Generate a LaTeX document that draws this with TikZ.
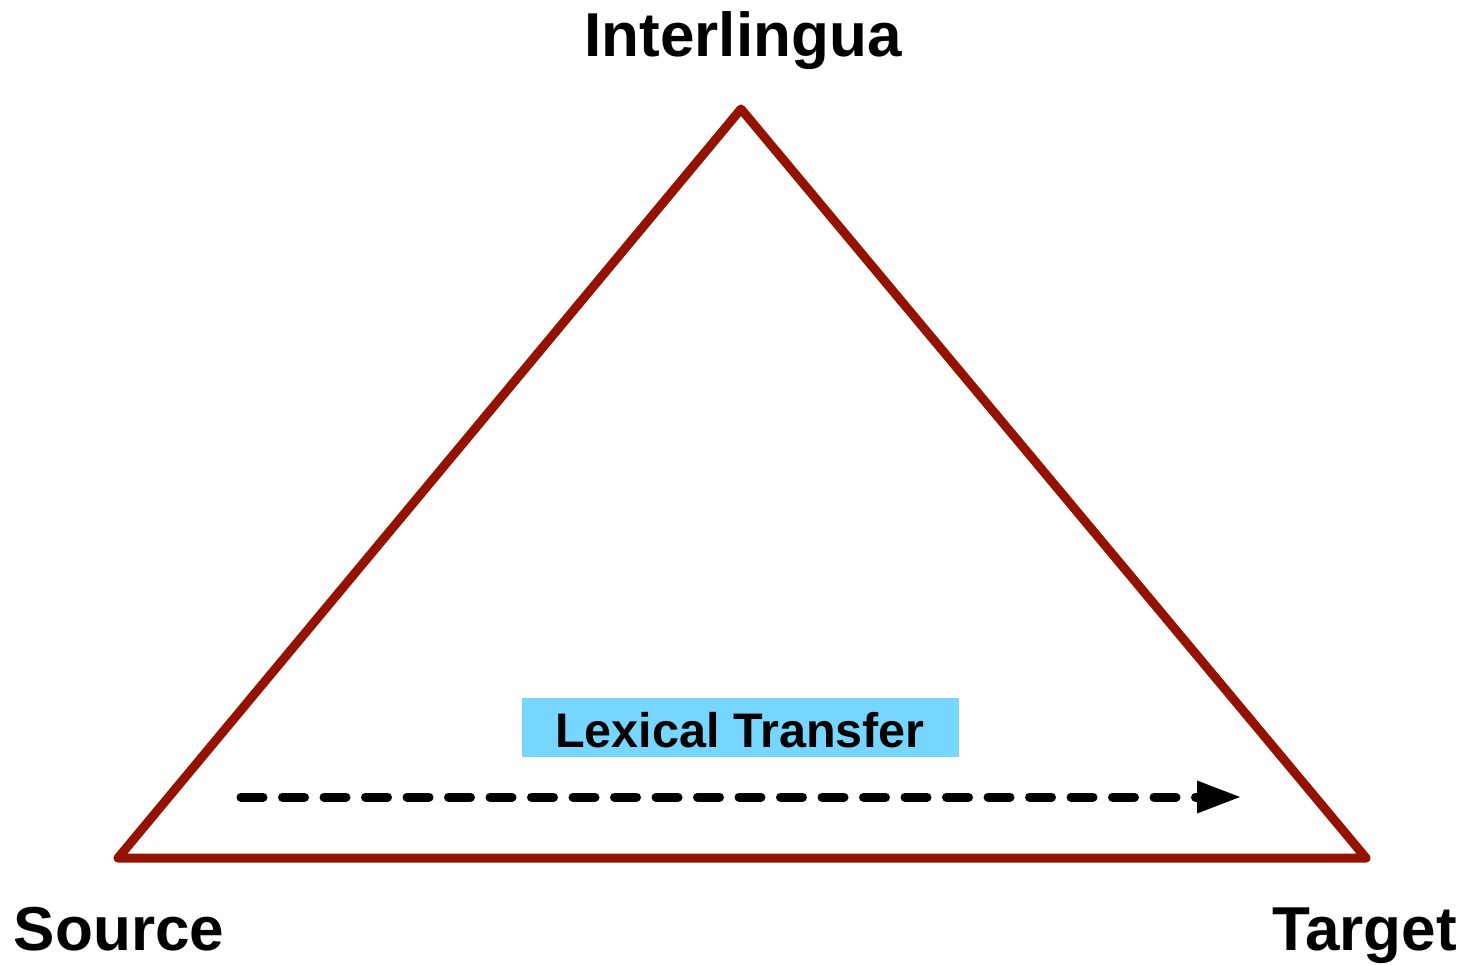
\documentclass[tikz,border=0pt]{standalone}
\usepackage{fontspec}
\setmainfont{Liberation Sans}
\usetikzlibrary{arrows.meta}
\definecolor{tri}{HTML}{961200}
\definecolor{boxblue}{HTML}{76D6FF}
\begin{document}
\begin{tikzpicture}[x=1pt,y=-1pt,
  lbl/.style={font=\fontsize{62}{70}\selectfont\bfseries, inner sep=0pt, anchor=base},
  edge/.style={draw=tri, line width=9pt, line join=round, line cap=round},
  transfer/.style={draw=black, line width=9pt, line cap=round, dash pattern=on 22pt off 19.5pt,
     -{Triangle[length=43pt,width=33pt,line width=0pt]}}]
\useasboundingbox (0,0) rectangle (1467,965);
\coordinate (top) at (741,109);
\coordinate (left) at (118,858);
\coordinate (right) at (1366,858);
\draw[edge] (top) -- (left) -- (right) -- cycle;
\node[lbl] (inter) at (743,57) {Interlingua};
\node[lbl] (src) at (119,950) {Source};
\node[lbl] (tgt) at (1364.5,950) {Target};
\node[fill=boxblue, minimum width=437pt, minimum height=59pt, inner sep=0pt] (box) at (740.5,727.5) {};
\node[font=\fontsize{48.5}{55}\selectfont\bfseries, inner sep=0pt, anchor=base] (lt) at (740,747) {Lexical Transfer};
\coordinate (a1) at (241,797);
\coordinate (a2) at (1240,797);
\draw[transfer] (a1) -- (a2);
\end{tikzpicture}
\end{document}
